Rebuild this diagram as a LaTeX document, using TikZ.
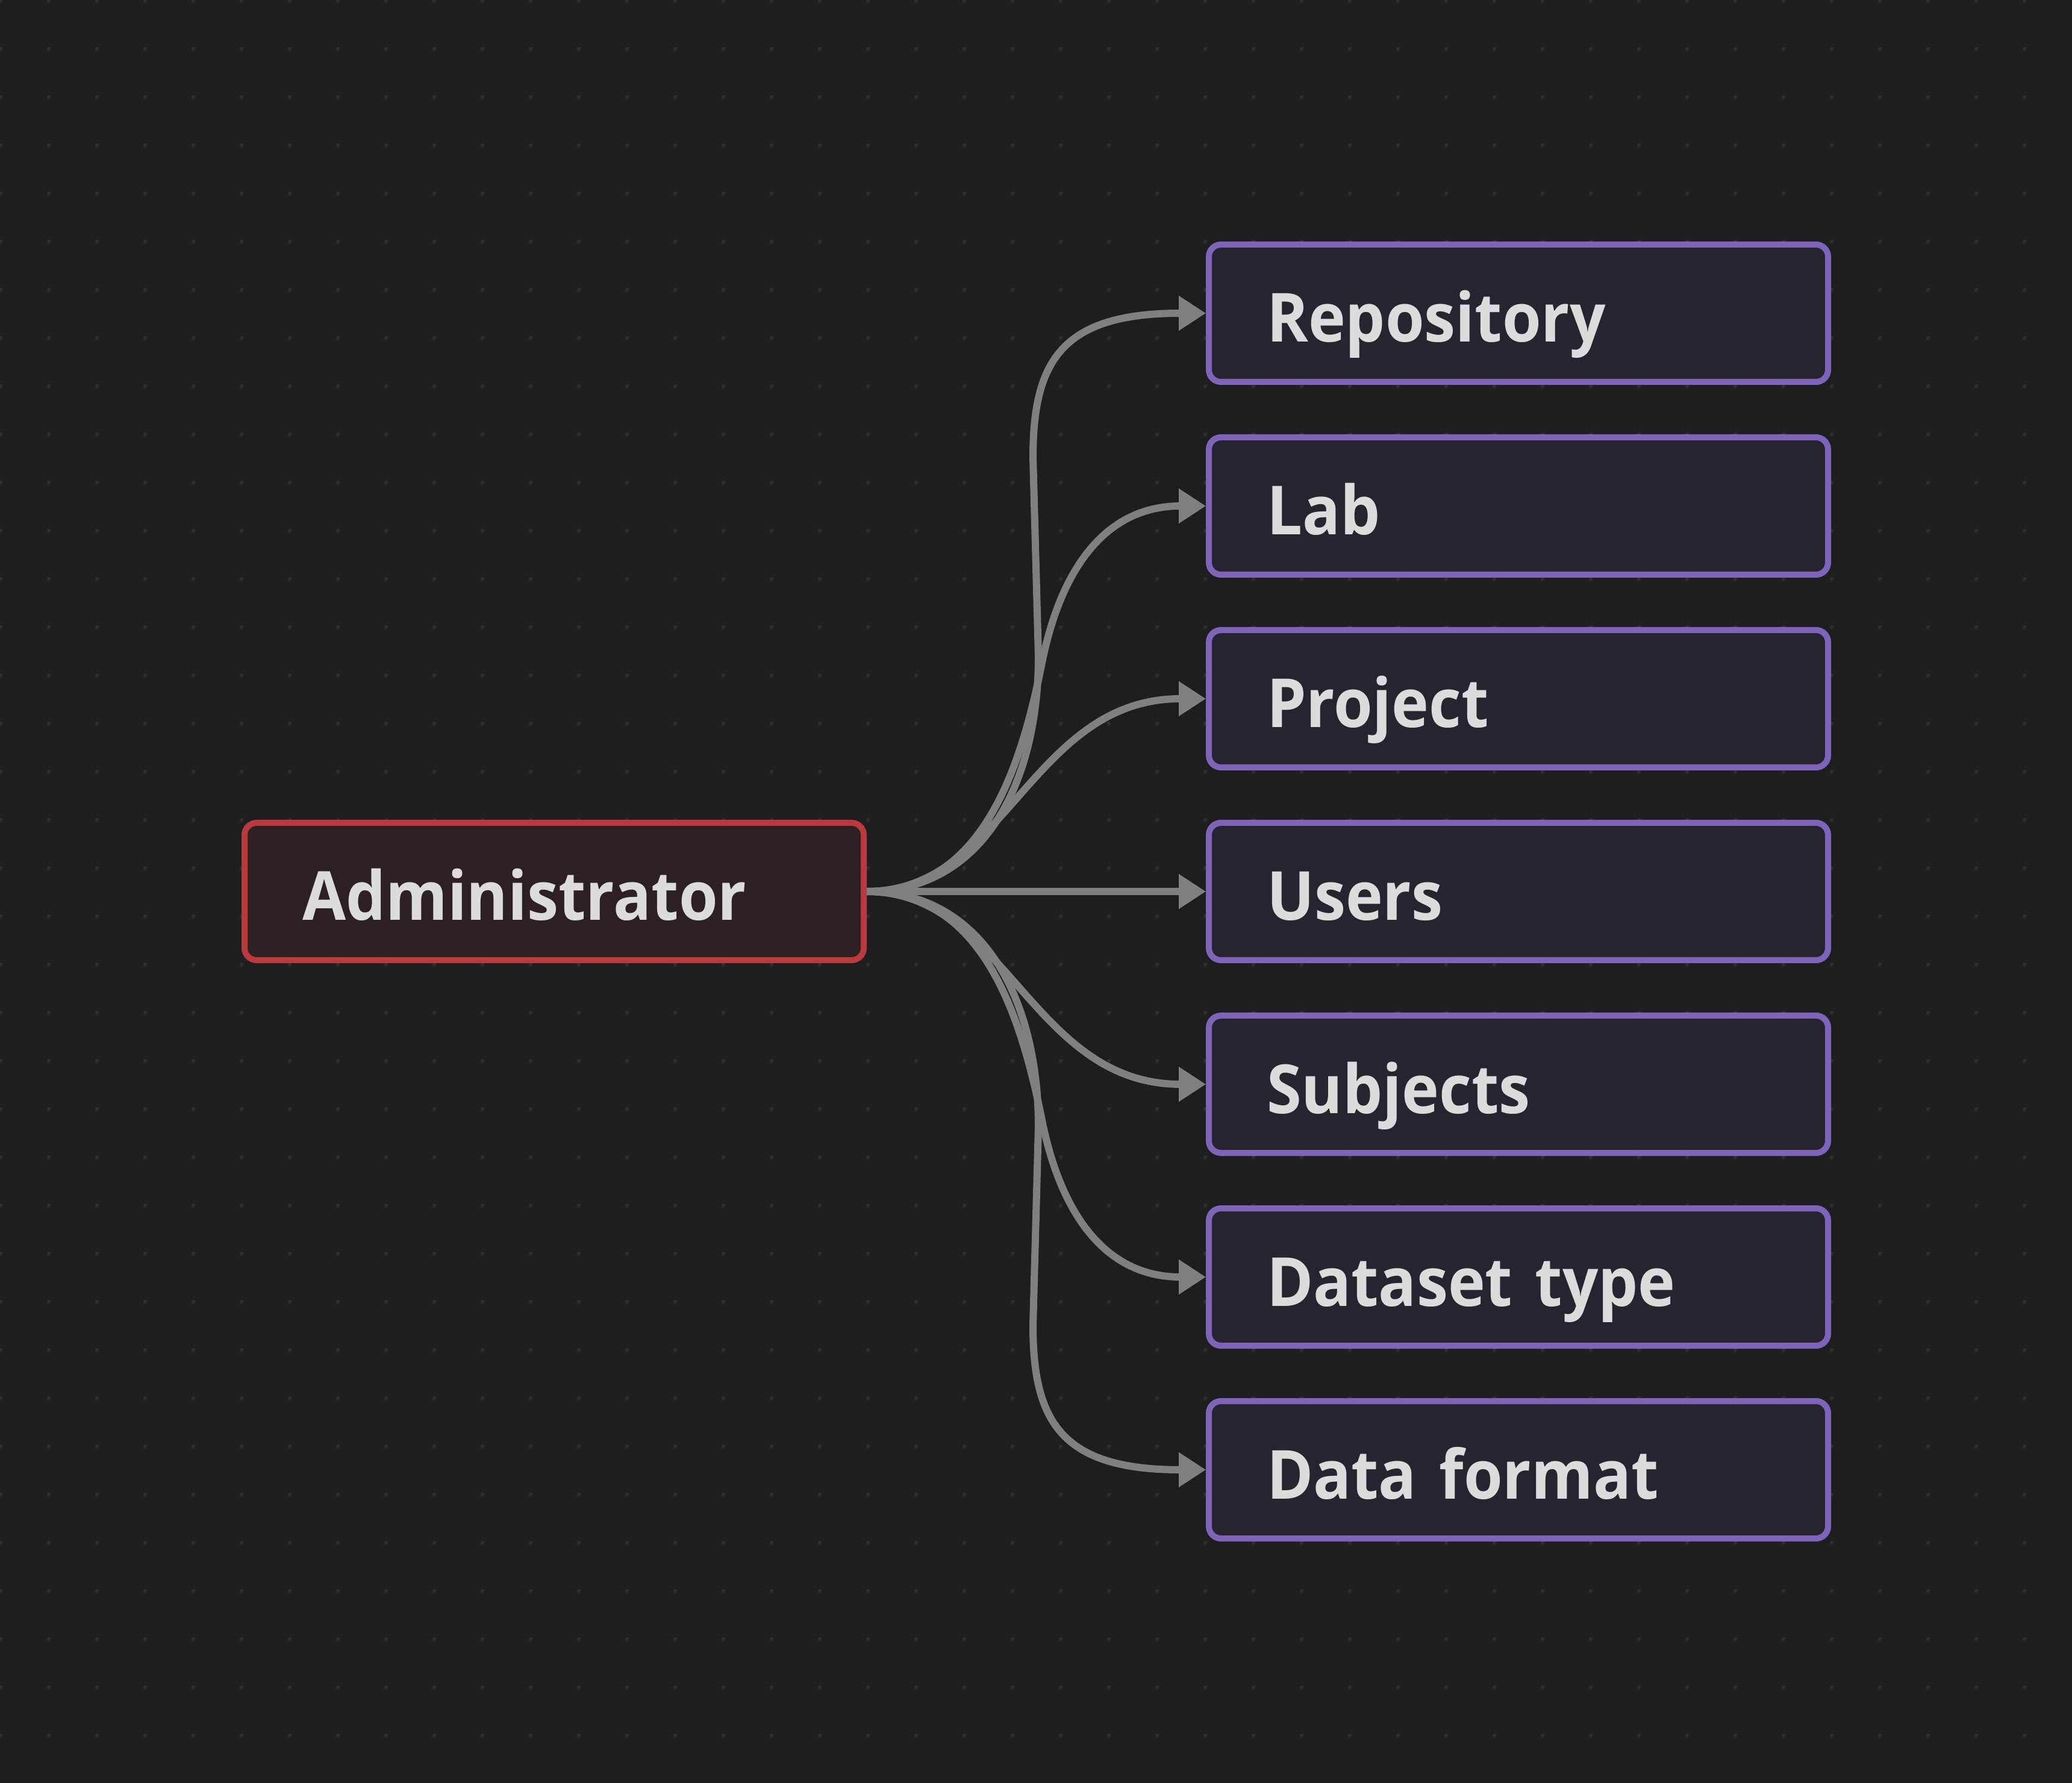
\documentclass[tikz,border=0pt]{standalone}
\usepackage{fontspec}
\setmainfont{Open Sans}[FakeStretch=0.93,WordSpace=0.75]
\usetikzlibrary{arrows.meta,positioning}
\definecolor{bgc}{HTML}{1E1E1E}
\definecolor{dotc}{HTML}{303030}
\definecolor{redc}{HTML}{B83A3F}
\definecolor{redfill}{HTML}{2D2022}
\definecolor{purc}{HTML}{7E64B9}
\definecolor{purfill}{HTML}{27242F}
\definecolor{linec}{HTML}{808080}
\definecolor{txtc}{HTML}{DCDCDC}
\begin{document}
\begin{tikzpicture}[node distance=3.2cm]
\tikzstyle{box}=[rectangle, rounded corners=0.2cm, line width=0.1cm, minimum height=2.28cm, text width=8.36cm, inner xsep=0.96cm, text height=1.2cm, text depth=0.24cm, align=left, text=txtc, font=\fontsize{32}{38}\selectfont\bfseries]
\tikzstyle{boxa}=[box, draw=redc, fill=redfill]
\tikzstyle{boxp}=[box, draw=purc, fill=purfill]
\tikzstyle{edge}=[line width=0.12cm, draw=linec, -{Triangle[length=0.45cm,width=0.55cm]}]
% background and dot grid
\useasboundingbox (0,0) rectangle (34.4,-29.6);
\fill[bgc] (0,0) rectangle (34.4,-29.6);
\foreach \i in {0,...,42}
  \foreach \j in {0,...,36}
    \fill[dotc] (0.01+0.8*\i,-0.01-0.8*\j) circle (0.03);
% nodes
\node (admin) [boxa] at (9.20,-14.80) {Administrator};
\node (repo) [boxp] at (25.21,-5.20) {Repository};
\node (lab) [boxp, below of=repo] {Lab};
\node (proj) [boxp, below of=lab] {Project};
\node (users) [boxp, below of=proj] {Users};
\node (subj) [boxp, below of=users] {Subjects};
\node (dstype) [boxp, below of=subj] {Dataset type};
\node (dfmt) [boxp, below of=dstype] {Data format};
% edges
\draw[edge] (admin.east) .. controls +(2.0,0) and +(0,-2.0) .. (17.24,-10.9) -- (17.15,-7.6) .. controls +(0,1.6) and +(-2.4,0) .. (repo.west);
\draw[edge] (admin.east) .. controls +(1.9,0) and +(-0.36,-1.8) .. (17.30,-11.0) .. controls +(0.3,1.5) and +(-1.7,0) .. (lab.west);
\draw[edge] (admin.east) .. controls +(2.3,0) and +(-2.9,0) .. (proj.west);
\draw[edge] (admin.east) -- (users.west);
\draw[edge] (admin.east) .. controls +(2.3,0) and +(-2.9,0) .. (subj.west);
\draw[edge] (admin.east) .. controls +(1.9,0) and +(-0.36,1.8) .. (17.30,-18.6) .. controls +(0.3,-1.5) and +(-1.7,0) .. (dstype.west);
\draw[edge] (admin.east) .. controls +(2.0,0) and +(0,2.0) .. (17.24,-18.7) -- (17.15,-22.0) .. controls +(0,-1.6) and +(-2.4,0) .. (dfmt.west);
\end{tikzpicture}
\end{document}
